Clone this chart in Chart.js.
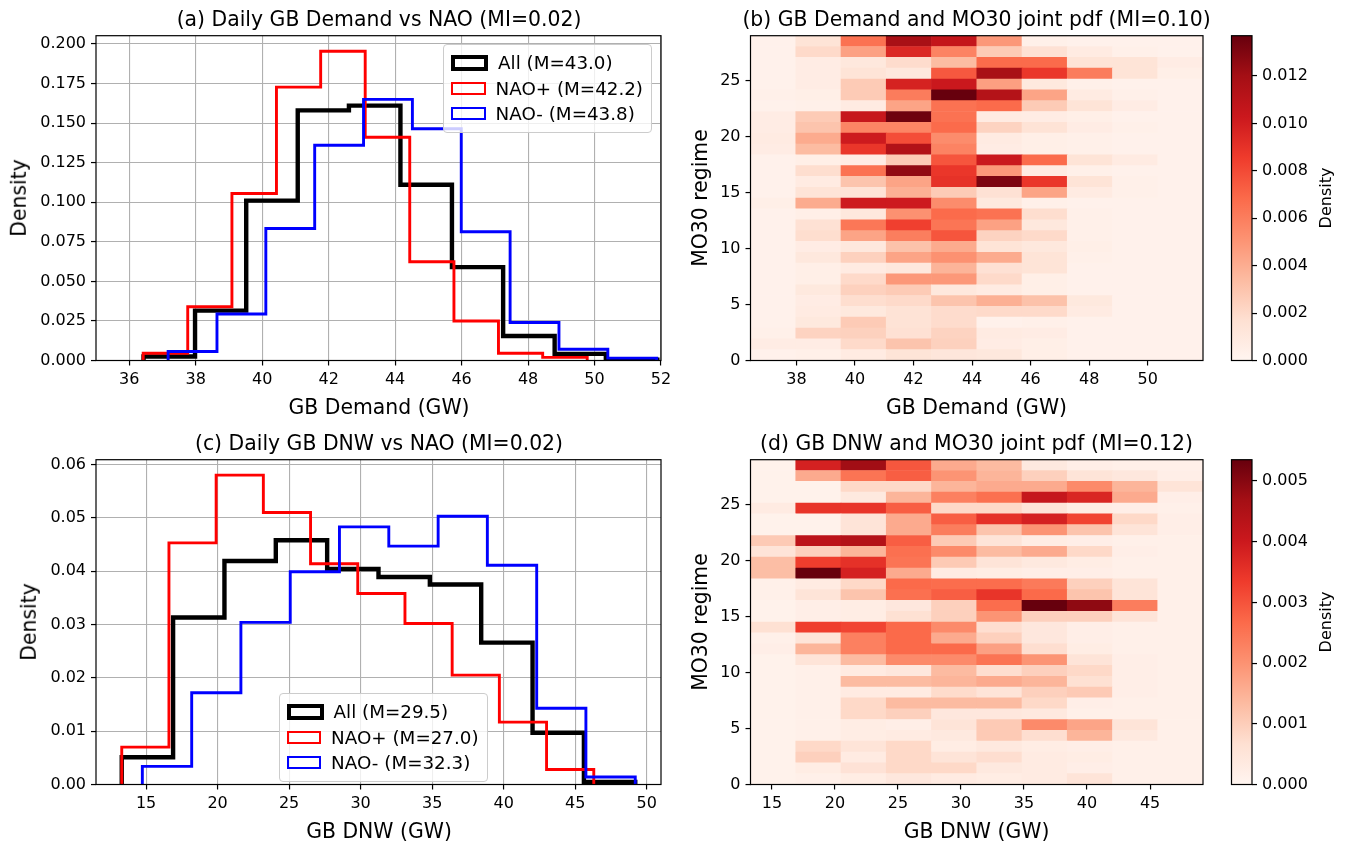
<!DOCTYPE html>
<html>
<head>
<meta charset="utf-8">
<script src="https://cdn.jsdelivr.net/npm/chart.js@4.4.1/dist/chart.umd.min.js"></script>
<style>
  body { margin: 0; background: #fff; width: 1349px; height: 844px; position: relative; overflow: hidden;
         font-family: "DejaVu Sans", sans-serif; color: #000; }
  canvas { position: absolute; }
  .txt { position: absolute; white-space: nowrap; line-height: 1; transform: translate(-50%, -50%); font-size: 20.4px; }
  .rot { transform: translate(-50%, -50%) rotate(-90deg); }
  .legend { position: absolute; background: rgba(255,255,255,0.8); border: 1px solid #cccccc; border-radius: 4px;
            padding: 5px 8px 5px 7px; font-size: 18.3px; }
  .legend .row { display: flex; align-items: center; height: 25.5px; white-space: nowrap; }
  .legend .sw { margin-right: 10px; background: transparent; }
</style>
</head>
<body>

<canvas id="histDemand" width="700" height="400" style="left:0px;top:0px"></canvas>
<canvas id="heatDemand" width="520" height="400" style="left:700px;top:0px"></canvas>
<canvas id="cbDemand" width="129" height="400" style="left:1220px;top:0px"></canvas>
<canvas id="histDnw" width="700" height="400" style="left:0px;top:424.3px"></canvas>
<canvas id="heatDnw" width="520" height="400" style="left:700px;top:424.3px"></canvas>
<canvas id="cbDnw" width="129" height="400" style="left:1220px;top:424.3px"></canvas>

<div class="txt" style="left:379px;top:18.5px">(a) Daily GB Demand vs NAO (MI=0.02)</div>
<div class="txt" style="left:976.5px;top:18.5px">(b) GB Demand and MO30 joint pdf (MI=0.10)</div>
<div class="txt" style="left:379px;top:442.5px">(c) Daily GB DNW vs NAO (MI=0.02)</div>
<div class="txt" style="left:976.5px;top:442.5px">(d) GB DNW and MO30 joint pdf (MI=0.12)</div>

<div class="txt" style="left:379px;top:407px">GB Demand (GW)</div>
<div class="txt" style="left:976.5px;top:407px">GB Demand (GW)</div>
<div class="txt" style="left:379px;top:831px">GB DNW (GW)</div>
<div class="txt" style="left:976.5px;top:831px">GB DNW (GW)</div>

<div class="txt rot" style="left:19px;top:198px">Density</div>
<div class="txt rot" style="left:29px;top:622px">Density</div>
<div class="txt rot" style="left:700px;top:198px">MO30 regime</div>
<div class="txt rot" style="left:700px;top:622px">MO30 regime</div>
<div class="txt rot" style="left:1326px;top:198px;font-size:16px">Density</div>
<div class="txt rot" style="left:1326px;top:622px;font-size:16px">Density</div>

<div class="legend" id="legendDemand" style="right:697px;top:44px"></div>
<div class="legend" id="legendDnw" style="left:279px;top:693px"></div>

<script>
// ---- 1D histograms: bin edges and densities ----
const demandEdgesAll = [36.43, 37.98, 39.52, 41.07, 42.61, 44.16, 45.71, 47.25, 48.80, 50.34, 51.89];
const demandAll = [0.0025, 0.0315, 0.101, 0.158, 0.161, 0.111, 0.059, 0.0155, 0.0042, 0.0005];
const demandEdgesPos = [36.42, 37.76, 39.09, 40.43, 41.76, 43.10, 44.44, 45.77, 47.11, 48.44, 49.78];
const demandPos = [0.0046, 0.034, 0.1055, 0.1727, 0.1954, 0.141, 0.0624, 0.025, 0.0046, 0.002];
const demandEdgesNeg = [37.17, 38.64, 40.11, 41.58, 43.05, 44.52, 45.99, 47.46, 48.93, 50.40, 51.87];
const demandNeg = [0.0057, 0.0294, 0.0834, 0.136, 0.165, 0.1464, 0.0813, 0.024, 0.0071, 0.0015];

const dnwEdgesAll = [13.30, 16.89, 20.48, 24.07, 27.66, 31.25, 34.84, 38.43, 42.02, 45.61, 49.20];
const dnwAll = [0.0051, 0.0313, 0.0419, 0.0458, 0.0404, 0.0389, 0.0375, 0.0266, 0.0097, 0.0005];
const dnwEdgesPos = [13.30, 16.60, 19.90, 23.20, 26.50, 29.80, 33.10, 36.40, 39.70, 43.00, 46.30];
const dnwPos = [0.007, 0.0453, 0.058, 0.051, 0.0414, 0.0358, 0.0302, 0.0205, 0.0117, 0.0028];
const dnwEdgesNeg = [14.74, 18.19, 21.63, 25.08, 28.52, 31.97, 35.42, 38.86, 42.31, 45.75, 49.20];
const dnwNeg = [0.0034, 0.0172, 0.0304, 0.0399, 0.0483, 0.0447, 0.0503, 0.0411, 0.0143, 0.0014];

const legendLabelsDemand = ["All (M=43.0)", "NAO+ (M=42.2)", "NAO- (M=43.8)"];
const legendLabelsDnw = ["All (M=29.5)", "NAO+ (M=27.0)", "NAO- (M=32.3)"];

// ---- joint pdfs: one row per MO30 bin (row 0 = bottom), 10 columns along the x bins ----
const regimeMax = 29;
const regimeBins = 30;

const demandPdf = [
  [0.0003, 0.0004, 0.0008, 0.0014, 0.0012, 0.0011, 0.0005, 0.0003, 0.0003, 0.0003],
  [0.0007, 0.0007, 0.0020, 0.0030, 0.0024, 0.0007, 0.0005, 0.0003, 0.0003, 0.0003],
  [0.0004, 0.0023, 0.0024, 0.0016, 0.0023, 0.0008, 0.0007, 0.0003, 0.0003, 0.0003],
  [0.0003, 0.0010, 0.0027, 0.0015, 0.0019, 0.0003, 0.0004, 0.0003, 0.0003, 0.0003],
  [0.0003, 0.0008, 0.0010, 0.0015, 0.0019, 0.0020, 0.0020, 0.0008, 0.0003, 0.0003],
  [0.0003, 0.0007, 0.0018, 0.0020, 0.0030, 0.0039, 0.0031, 0.0010, 0.0003, 0.0003],
  [0.0003, 0.0010, 0.0024, 0.0027, 0.0011, 0.0008, 0.0005, 0.0003, 0.0003, 0.0003],
  [0.0003, 0.0005, 0.0020, 0.0049, 0.0049, 0.0020, 0.0005, 0.0003, 0.0003, 0.0003],
  [0.0003, 0.0005, 0.0008, 0.0011, 0.0037, 0.0016, 0.0014, 0.0003, 0.0003, 0.0003],
  [0.0003, 0.0011, 0.0024, 0.0044, 0.0052, 0.0041, 0.0014, 0.0004, 0.0003, 0.0003],
  [0.0003, 0.0007, 0.0011, 0.0031, 0.0041, 0.0014, 0.0011, 0.0005, 0.0003, 0.0003],
  [0.0003, 0.0018, 0.0044, 0.0060, 0.0076, 0.0023, 0.0020, 0.0004, 0.0003, 0.0003],
  [0.0003, 0.0016, 0.0063, 0.0084, 0.0064, 0.0045, 0.0011, 0.0004, 0.0003, 0.0003],
  [0.0003, 0.0005, 0.0011, 0.0052, 0.0068, 0.0065, 0.0018, 0.0004, 0.0003, 0.0003],
  [0.0005, 0.0041, 0.0102, 0.0102, 0.0054, 0.0010, 0.0004, 0.0003, 0.0003, 0.0003],
  [0.0003, 0.0014, 0.0015, 0.0039, 0.0027, 0.0016, 0.0044, 0.0008, 0.0004, 0.0003],
  [0.0003, 0.0008, 0.0030, 0.0044, 0.0090, 0.0131, 0.0088, 0.0014, 0.0004, 0.0003],
  [0.0003, 0.0018, 0.0065, 0.0125, 0.0088, 0.0049, 0.0008, 0.0004, 0.0003, 0.0003],
  [0.0003, 0.0005, 0.0007, 0.0027, 0.0076, 0.0103, 0.0068, 0.0014, 0.0008, 0.0003],
  [0.0007, 0.0034, 0.0088, 0.0114, 0.0058, 0.0007, 0.0005, 0.0004, 0.0003, 0.0003],
  [0.0008, 0.0041, 0.0102, 0.0079, 0.0054, 0.0008, 0.0005, 0.0004, 0.0003, 0.0003],
  [0.0007, 0.0030, 0.0057, 0.0057, 0.0068, 0.0023, 0.0015, 0.0007, 0.0004, 0.0003],
  [0.0007, 0.0027, 0.0105, 0.0135, 0.0065, 0.0008, 0.0007, 0.0005, 0.0003, 0.0003],
  [0.0003, 0.0004, 0.0008, 0.0044, 0.0065, 0.0068, 0.0027, 0.0014, 0.0007, 0.0003],
  [0.0004, 0.0005, 0.0027, 0.0061, 0.0137, 0.0113, 0.0044, 0.0008, 0.0004, 0.0003],
  [0.0003, 0.0007, 0.0027, 0.0098, 0.0103, 0.0046, 0.0010, 0.0004, 0.0003, 0.0003],
  [0.0003, 0.0007, 0.0014, 0.0011, 0.0075, 0.0118, 0.0088, 0.0061, 0.0014, 0.0005],
  [0.0003, 0.0007, 0.0011, 0.0019, 0.0034, 0.0068, 0.0068, 0.0014, 0.0014, 0.0007],
  [0.0003, 0.0020, 0.0045, 0.0095, 0.0058, 0.0027, 0.0016, 0.0008, 0.0004, 0.0003],
  [0.0003, 0.0014, 0.0065, 0.0118, 0.0106, 0.0049, 0.0004, 0.0003, 0.0003, 0.0003]
];

const dnwPdf = [
  [0.00011, 0.00016, 0.00027, 0.00043, 0.00032, 0.00027, 0.00032, 0.00054, 0.00016, 0.00016],
  [0.00011, 0.00027, 0.00059, 0.00080, 0.00080, 0.00037, 0.00032, 0.00021, 0.00016, 0.00016],
  [0.00011, 0.00096, 0.00032, 0.00080, 0.00054, 0.00070, 0.00032, 0.00027, 0.00016, 0.00016],
  [0.00011, 0.00080, 0.00054, 0.00080, 0.00027, 0.00037, 0.00027, 0.00021, 0.00016, 0.00016],
  [0.00011, 0.00016, 0.00027, 0.00032, 0.00037, 0.00107, 0.00070, 0.00144, 0.00037, 0.00016],
  [0.00011, 0.00016, 0.00027, 0.00021, 0.00054, 0.00107, 0.00214, 0.00171, 0.00054, 0.00016],
  [0.00011, 0.00016, 0.00080, 0.00096, 0.00043, 0.00043, 0.00037, 0.00016, 0.00016, 0.00016],
  [0.00011, 0.00016, 0.00080, 0.00134, 0.00134, 0.00134, 0.00080, 0.00021, 0.00016, 0.00016],
  [0.00011, 0.00016, 0.00032, 0.00032, 0.00075, 0.00054, 0.00096, 0.00107, 0.00021, 0.00016],
  [0.00011, 0.00016, 0.00134, 0.00134, 0.00144, 0.00161, 0.00144, 0.00064, 0.00021, 0.00016],
  [0.00011, 0.00016, 0.00032, 0.00043, 0.00134, 0.00070, 0.00096, 0.00080, 0.00021, 0.00016],
  [0.00011, 0.00054, 0.00134, 0.00214, 0.00214, 0.00251, 0.00198, 0.00054, 0.00021, 0.00016],
  [0.00021, 0.00144, 0.00230, 0.00268, 0.00268, 0.00177, 0.00070, 0.00027, 0.00016, 0.00016],
  [0.00016, 0.00054, 0.00230, 0.00268, 0.00161, 0.00096, 0.00043, 0.00021, 0.00016, 0.00016],
  [0.00064, 0.00332, 0.00321, 0.00268, 0.00214, 0.00070, 0.00043, 0.00021, 0.00016, 0.00016],
  [0.00011, 0.00021, 0.00027, 0.00064, 0.00096, 0.00198, 0.00096, 0.00096, 0.00054, 0.00016],
  [0.00011, 0.00021, 0.00027, 0.00043, 0.00096, 0.00262, 0.00535, 0.00492, 0.00235, 0.00016],
  [0.00016, 0.00054, 0.00118, 0.00257, 0.00284, 0.00348, 0.00268, 0.00118, 0.00054, 0.00016],
  [0.00016, 0.00032, 0.00080, 0.00268, 0.00262, 0.00262, 0.00241, 0.00096, 0.00054, 0.00016],
  [0.00128, 0.00535, 0.00385, 0.00161, 0.00032, 0.00027, 0.00021, 0.00021, 0.00016, 0.00016],
  [0.00128, 0.00332, 0.00353, 0.00251, 0.00107, 0.00054, 0.00037, 0.00027, 0.00016, 0.00016],
  [0.00054, 0.00096, 0.00144, 0.00257, 0.00214, 0.00134, 0.00161, 0.00080, 0.00021, 0.00016],
  [0.00107, 0.00428, 0.00444, 0.00284, 0.00107, 0.00054, 0.00027, 0.00021, 0.00016, 0.00016],
  [0.00011, 0.00011, 0.00054, 0.00161, 0.00235, 0.00118, 0.00198, 0.00118, 0.00054, 0.00021],
  [0.00011, 0.00011, 0.00054, 0.00161, 0.00284, 0.00353, 0.00385, 0.00321, 0.00080, 0.00021],
  [0.00032, 0.00348, 0.00348, 0.00284, 0.00080, 0.00080, 0.00054, 0.00027, 0.00021, 0.00016],
  [0.00011, 0.00011, 0.00037, 0.00144, 0.00230, 0.00257, 0.00412, 0.00375, 0.00161, 0.00021],
  [0.00011, 0.00011, 0.00080, 0.00080, 0.00144, 0.00161, 0.00161, 0.00214, 0.00144, 0.00054],
  [0.00011, 0.00161, 0.00251, 0.00284, 0.00198, 0.00144, 0.00096, 0.00054, 0.00043, 0.00021],
  [0.00011, 0.00385, 0.00471, 0.00294, 0.00161, 0.00134, 0.00037, 0.00021, 0.00016, 0.00016]
];

// ---- tick labels ----
const demandHistTicksX = [36, 38, 40, 42, 44, 46, 48, 50, 52];
const demandHistTicksY = [0, 0.025, 0.05, 0.075, 0.1, 0.125, 0.15, 0.175, 0.2];
const demandHeatTicksX = [38, 40, 42, 44, 46, 48, 50];
const dnwHistTicksX = [15, 20, 25, 30, 35, 40, 45, 50];
const dnwHistTicksY = [0, 0.01, 0.02, 0.03, 0.04, 0.05, 0.06];
const dnwHeatTicksX = [15, 20, 25, 30, 35, 40, 45];
const regimeTicks = [0, 5, 10, 15, 20, 25];
const demandCbTicks = [0, 0.002, 0.004, 0.006, 0.008, 0.010, 0.012];
const dnwCbTicks = [0, 0.001, 0.002, 0.003, 0.004, 0.005];

// matplotlib "Reds" colormap stops
const redsStops = ["#fff5f0", "#fee0d2", "#fcbba1", "#fc9272", "#fb6a4a", "#ef3b2c", "#cb181d", "#a50f15", "#67000d"];

Chart.defaults.font.family = '"DejaVu Sans", sans-serif';
Chart.defaults.color = "#000";

const TICK_FONT = { family: '"DejaVu Sans", sans-serif', size: 16 };

function hexToRgb(h) {
  return [parseInt(h.slice(1, 3), 16), parseInt(h.slice(3, 5), 16), parseInt(h.slice(5, 7), 16)];
}

function redsColor(t) {
  t = Math.max(0, Math.min(1, t));
  const pos = t * (redsStops.length - 1);
  const i = Math.min(Math.floor(pos), redsStops.length - 2);
  const f = pos - i;
  const a = hexToRgb(redsStops[i]);
  const b = hexToRgb(redsStops[i + 1]);
  const c = a.map((v, k) => Math.round(v + (b[k] - v) * f));
  return "rgb(" + c.join(",") + ")";
}

// draws the four spines around the plot area
const framePlugin = {
  id: "frame",
  afterDatasetsDraw(chart) {
    const { ctx, chartArea: a } = chart;
    ctx.save();
    ctx.strokeStyle = "#000";
    ctx.lineWidth = 1.2;
    ctx.strokeRect(a.left, a.top, a.right - a.left, a.bottom - a.top);
    ctx.restore();
  }
};

function linearAxis(tickValues, format, gridOnArea, extra) {
  return Object.assign({
    type: "linear",
    afterBuildTicks: scale => { scale.ticks = tickValues.map(v => ({ value: v })); },
    ticks: {
      autoSkip: false, maxRotation: 0, minRotation: 0, font: TICK_FONT, color: "#000", padding: 5,
      callback: format
    },
    grid: {
      display: true, drawOnChartArea: gridOnArea, offset: false, color: "#b0b0b0", lineWidth: 1.1,
      drawTicks: true, tickLength: 5, tickColor: "#000", tickWidth: 1.2
    },
    border: { display: false }
  }, extra);
}

// outline of a step histogram (matplotlib histtype="step")
function stepOutline(edges, values) {
  const pts = [{ x: edges[0], y: 0 }];
  values.forEach((v, i) => {
    pts.push({ x: edges[i], y: v });
    pts.push({ x: edges[i + 1], y: v });
  });
  pts.push({ x: edges[edges.length - 1], y: 0 });
  return pts;
}

const seriesStyles = [
  { color: "#000000", width: 4.4, order: 3 },
  { color: "#ff0000", width: 2.9, order: 2 },
  { color: "#0000ff", width: 2.9, order: 1 }
];

function createHistChart(id, series, labels, xRange, yMax, ticksX, ticksY, yFormat) {
  const datasets = series.map((s, i) => ({
    label: labels[i],
    data: stepOutline(s.edges, s.values),
    borderColor: seriesStyles[i].color,
    borderWidth: seriesStyles[i].width,
    order: seriesStyles[i].order,
    fill: false,
    tension: 0,
    pointRadius: 0
  }));
  new Chart(document.getElementById(id), {
    type: "line",
    data: { datasets },
    options: {
      responsive: false,
      animation: false,
      events: [],
      layout: { padding: { top: 35.7, right: 39, left: 0, bottom: 0 } },
      plugins: { legend: { display: false }, tooltip: { enabled: false } },
      scales: {
        x: linearAxis(ticksX, v => String(v), true, {
          min: xRange[0], max: xRange[1], afterFit: s => { s.height = 39.5; }
        }),
        y: linearAxis(ticksY, yFormat, true, {
          min: 0, max: yMax, afterFit: s => { s.width = 96; }
        })
      }
    },
    plugins: [framePlugin]
  });
}

function createHeatChart(id, pdf, xEdges, ticksX) {
  const vmax = Math.max(...pdf.flat());
  const rowH = regimeMax / regimeBins;
  const datasets = pdf.map((row, r) => ({
    data: row.map((v, c) => ({ x: (xEdges[c] + xEdges[c + 1]) / 2, y: [r * rowH, (r + 1) * rowH] })),
    backgroundColor: row.map(v => redsColor(v / vmax)),
    borderWidth: 0,
    barPercentage: 1,
    categoryPercentage: 1
  }));
  new Chart(document.getElementById(id), {
    type: "bar",
    data: { datasets },
    options: {
      responsive: false,
      animation: false,
      events: [],
      layout: { padding: { top: 35.7, right: 17, left: 0, bottom: 0 } },
      plugins: { legend: { display: false }, tooltip: { enabled: false } },
      scales: {
        x: linearAxis(ticksX, v => String(v), false, {
          min: xEdges[0], max: xEdges[xEdges.length - 1], stacked: true, offset: false,
          afterFit: s => { s.height = 39.5; }
        }),
        y: linearAxis(regimeTicks, v => String(v), false, {
          min: 0, max: regimeMax, stacked: false, afterFit: s => { s.width = 50.5; }
        })
      }
    },
    plugins: [framePlugin]
  });
  return vmax;
}

function createColorbar(id, vmax, ticks) {
  new Chart(document.getElementById(id), {
    type: "bar",
    data: {
      labels: ["Density"],
      datasets: [{
        data: [[0, vmax]],
        borderWidth: 0,
        barPercentage: 1,
        categoryPercentage: 1,
        backgroundColor: ctx => {
          const area = ctx.chart.chartArea;
          if (!area) return redsStops[4];
          const g = ctx.chart.ctx.createLinearGradient(0, area.bottom, 0, area.top);
          redsStops.forEach((c, i) => g.addColorStop(i / (redsStops.length - 1), c));
          return g;
        }
      }]
    },
    options: {
      responsive: false,
      animation: false,
      events: [],
      layout: { padding: { top: 35.7, right: 0, left: 11.5, bottom: 39.5 } },
      plugins: { legend: { display: false }, tooltip: { enabled: false } },
      scales: {
        x: { display: false },
        y: linearAxis(ticks, v => v.toFixed(3), false, {
          position: "right", min: 0, max: vmax, afterFit: s => { s.width = 97; }
        })
      }
    },
    plugins: [framePlugin]
  });
}

function buildLegend(id, labels) {
  const box = document.getElementById(id);
  labels.forEach((text, i) => {
    const st = seriesStyles[i];
    const row = document.createElement("div");
    row.className = "row";
    const sw = document.createElement("div");
    sw.className = "sw";
    sw.style.width = (33 - st.width) + "px";
    sw.style.height = (12.25 - st.width) + "px";
    sw.style.border = st.width + "px solid " + st.color;
    const label = document.createElement("span");
    label.textContent = text;
    row.appendChild(sw);
    row.appendChild(label);
    box.appendChild(row);
  });
}

createHistChart("histDemand",
  [{ edges: demandEdgesAll, values: demandAll },
   { edges: demandEdgesPos, values: demandPos },
   { edges: demandEdgesNeg, values: demandNeg }],
  legendLabelsDemand, [35, 52], 0.2052, demandHistTicksX, demandHistTicksY, v => v.toFixed(3));

createHistChart("histDnw",
  [{ edges: dnwEdgesAll, values: dnwAll },
   { edges: dnwEdgesPos, values: dnwPos },
   { edges: dnwEdgesNeg, values: dnwNeg }],
  legendLabelsDnw, [11.5, 51.0], 0.0609, dnwHistTicksX, dnwHistTicksY, v => v.toFixed(2));

const demandVmax = createHeatChart("heatDemand", demandPdf, demandEdgesAll, demandHeatTicksX);
const dnwVmax = createHeatChart("heatDnw", dnwPdf, dnwEdgesAll, dnwHeatTicksX);

createColorbar("cbDemand", demandVmax, demandCbTicks);
createColorbar("cbDnw", dnwVmax, dnwCbTicks);

buildLegend("legendDemand", legendLabelsDemand);
buildLegend("legendDnw", legendLabelsDnw);
</script>
</body>
</html>
